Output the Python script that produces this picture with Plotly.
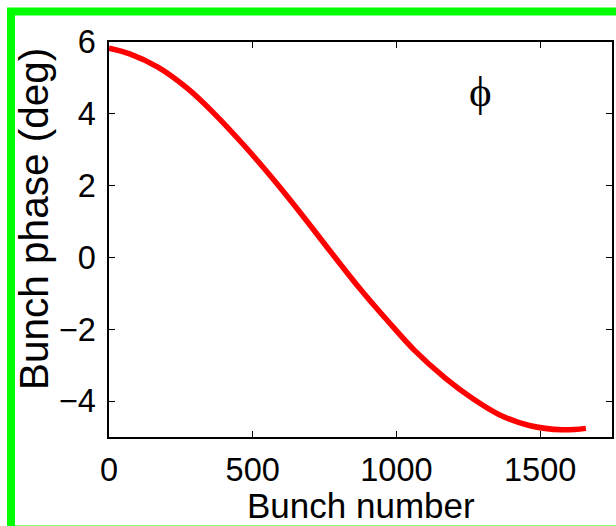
import plotly.graph_objects as go

# Bunch phase along the train
bunch = [0, 72, 170, 274, 367, 471, 570, 669, 767, 866, 970, 1062,
         1170, 1265, 1358, 1462, 1577, 1659]
phase_deg = [5.83, 5.67, 5.30, 4.70, 4.00, 3.11, 2.19, 1.21, 0.20, -0.80,
             -1.77, -2.58, -3.36, -3.93, -4.38, -4.68, -4.80, -4.76]

x_ticks = [0, 500, 1000, 1500]
y_ticks = [-4, -2, 0, 2, 4, 6]

W, H = 616, 526
L, R, T, B = 109, 4, 42, 89
pw, ph = W - L - R, H - T - B


def px(xp):
    return (xp - L) / pw


def py(yp):
    return (H - B - yp) / ph


fig = go.Figure()
fig.add_trace(go.Scatter(
    x=bunch, y=phase_deg, mode="lines",
    line=dict(color="#ff0000", width=5.5, shape="spline", smoothing=1.0),
    showlegend=False, hoverinfo="skip",
))

font = "Liberation Sans, Arial, sans-serif"
axis_common = dict(
    showline=True, linecolor="black", linewidth=1.5, mirror="ticks",
    ticks="inside", ticklen=6, tickwidth=1, tickcolor="black",
    showgrid=False, zeroline=False,
    tickfont=dict(family=font, size=32.5, color="black"),
)

fig.update_xaxes(
    range=[0, 1750], tickvals=x_ticks, ticktext=[str(v) for v in x_ticks],
    ticklabelstandoff=3,
    **axis_common,
)
fig.update_yaxes(
    range=[-5, 6], tickvals=y_ticks,
    ticktext=[("\u2212" + str(-v)) if v < 0 else str(v) for v in y_ticks],
    ticklabelstandoff=5,
    **axis_common,
)

# axis labels placed as annotations
fig.add_annotation(
    x=px(361), y=py(505), xref="paper", yref="paper", text="Bunch number",
    showarrow=False, xanchor="center", yanchor="middle",
    font=dict(family=font, size=35, color="black"),
)
fig.add_annotation(
    x=px(34), y=py(219), xref="paper", yref="paper", text="Bunch phase (deg)",
    showarrow=False, textangle=-90, xanchor="center", yanchor="middle",
    font=dict(family=font, size=40.5, color="black"),
)

# phase symbol inside the axes
fig.add_annotation(
    x=1294, y=4.62, xref="x", yref="y", text="\u03d5", showarrow=False,
    font=dict(family="Liberation Serif, Times New Roman, serif", size=43, color="black"),
)

# green frame around the figure
fig.add_shape(
    type="rect", xref="paper", yref="paper",
    x0=px(11), x1=px(640), y0=py(11.5), y1=py(529.5),
    line=dict(color="#00ff00", width=8), fillcolor="rgba(0,0,0,0)", layer="above",
)

fig.update_layout(
    width=W, height=H,
    margin=dict(l=L, r=R, t=T, b=B, autoexpand=False),
    paper_bgcolor="white", plot_bgcolor="white",
)

fig.write_html("out.html")
